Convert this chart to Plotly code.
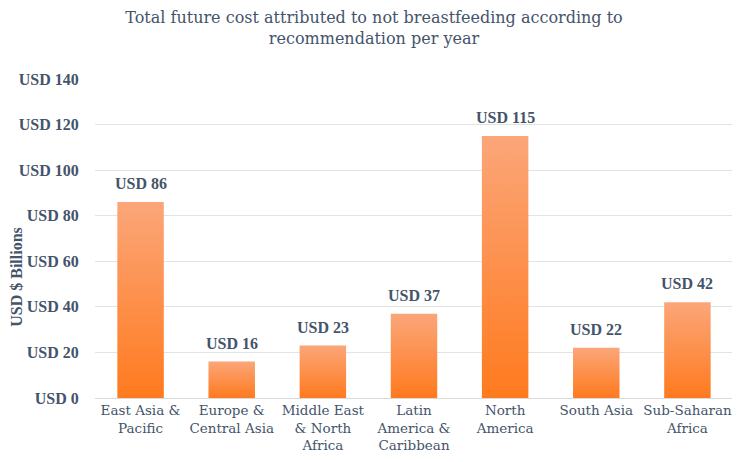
import plotly.graph_objects as go

# data
regions = ['East Asia &<br>Pacific', 'Europe &<br>Central Asia', 'Middle East<br>& North<br>Africa',
           'Latin<br>America &<br>Caribbean', 'North<br>America', 'South Asia', 'Sub-Saharan<br>Africa']
cost = [86, 16, 23, 37, 115, 22, 42]
labels = ['USD {}'.format(v) for v in cost]
yticks = [0, 20, 40, 60, 80, 100, 120, 140]
yticklabels = ['USD {}'.format(v) for v in yticks]
title = 'Total future cost attributed to not breastfeeding according to<br>recommendation per year'

txt = '#44546A'
serif = 'DejaVu Serif'
times = 'Liberation Serif'
half = 0.255

# page body has an 8px margin, so the figure is a bit smaller than the window
W, H = 732, 454

fig = go.Figure()
# each bar drawn as a filled shape so it can carry a vertical gradient
for i, v in enumerate(cost):
    fig.add_trace(go.Scatter(
        x=[i - half, i + half, i + half, i - half, i - half],
        y=[0, 0, v, v, 0],
        mode='lines', line=dict(width=0), fill='toself',
        fillgradient=dict(type='vertical',
                          colorscale=[[0, '#FF7A1E'], [1, '#FBA679']]),
        hoverinfo='skip', showlegend=False
    ))

# value labels above the bars
for i, v in enumerate(cost):
    fig.add_annotation(x=i, y=v, text=labels[i], showarrow=False, yanchor='bottom', yshift=8,
                       font=dict(family=times, size=16, color=txt, weight='bold'))

# y axis title sits a bit below the middle in the original
fig.add_annotation(xref='paper', yref='paper', x=0, xshift=-78, xanchor='center', y=0.38, yanchor='middle',
                   text='USD $ Billions', textangle=-90, showarrow=False,
                   font=dict(family=times, size=16, color=txt, weight='bold'))

fig.update_layout(
    width=W, height=H,
    margin=dict(l=87, r=7, t=71, b=64),
    paper_bgcolor='white', plot_bgcolor='white',
    font=dict(family=serif, color=txt),
    title=dict(text=title, x=0.5, xanchor='center', yref='container', y=1 - 15 / H, yanchor='middle',
               font=dict(family=serif, size=16, color=txt)),
    xaxis=dict(range=[-0.5, len(cost) - 0.5], tickvals=list(range(len(cost))), ticktext=regions,
               showgrid=False, zeroline=False, showline=True, linecolor='#D9D9D9', linewidth=1,
               ticks='', tickfont=dict(family=serif, size=13.5, color=txt)),
    yaxis=dict(range=[0, 140], tickvals=yticks, ticktext=yticklabels, showgrid=True, gridcolor='#E3E3E3',
               zeroline=False, showline=False, ticks='outside', ticklen=12, tickcolor='rgba(0,0,0,0)',
               tickfont=dict(family=times, size=16, color=txt, weight='bold')),
)

fig.write_html('out.html')
